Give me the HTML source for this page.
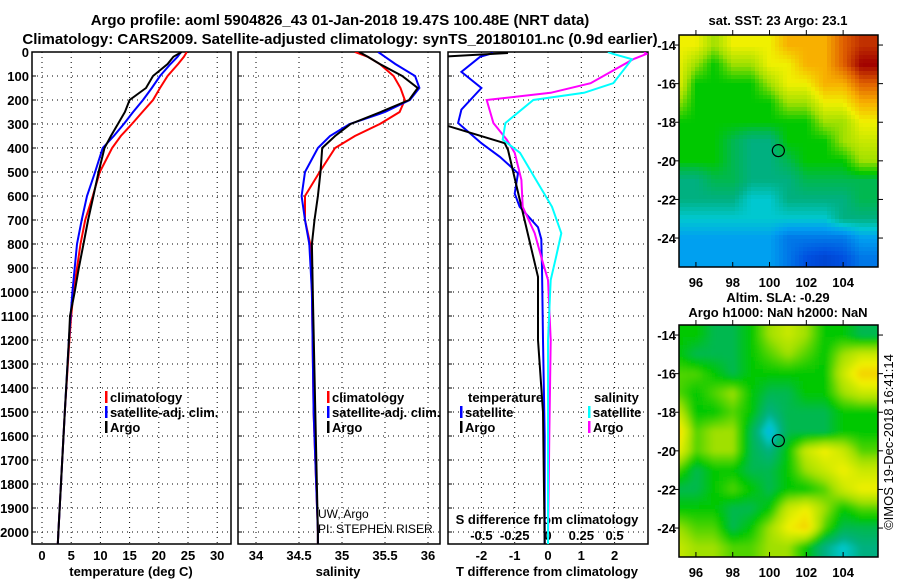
<!DOCTYPE html>
<html><head><meta charset="utf-8">
<style>
html,body{margin:0;padding:0;background:#fff;}
svg text{font-family:"Liberation Sans",Arial,sans-serif;}
.b{font-weight:bold;font-size:13px;}
.t{font-weight:bold;font-size:15px;}
</style></head>
<body>
<svg id="fig" width="900" height="580" viewBox="0 0 900 580" xmlns="http://www.w3.org/2000/svg">
<defs>
<clipPath id="c1"><rect x="32" y="52" width="199" height="492"/></clipPath>
<clipPath id="c2"><rect x="238" y="52" width="202" height="492"/></clipPath>
<clipPath id="c3"><rect x="448" y="52" width="200" height="492"/></clipPath>
<clipPath id="cm2"><rect x="679" y="325" width="199" height="232"/></clipPath>
<filter id="blur" x="-10%" y="-10%" width="120%" height="120%"><feGaussianBlur stdDeviation="2"/></filter>
</defs>
<text class="t" x="340" y="25" text-anchor="middle">Argo profile: aoml 5904826_43 01-Jan-2018 19.47S 100.48E (NRT data)</text>
<text class="t" x="340" y="44" text-anchor="middle">Climatology: CARS2009. Satellite-adjusted climatology: synTS_20180101.nc (0.9d earlier)</text>
<g id="g"></g>
</svg>
<script>
// ---- profile data (pressure in dbar) ----
const tDepth = [0,20,50,100,150,200,250,300,350,400,500,600,700,800,900,1000,1100,1200,1500,2000,2050];
const tClim  = [24.8,24.3,23.3,21.5,20.2,19.0,17.2,15.4,13.5,12.0,9.9,8.7,7.4,6.6,6.0,5.4,5.0,4.7,3.9,2.8,2.7];
const tSat   = [23.8,23.2,22.0,20.2,18.8,17.3,15.6,14.0,12.3,10.4,9.1,7.7,6.8,6.0,5.6,5.2,4.9,4.6,3.9,2.8,2.7];
const tArgo  = [23.9,22.5,21.5,19.0,17.8,15.0,14.2,13.0,11.8,10.7,9.7,8.8,7.9,7.1,6.3,5.6,4.8,4.6,3.9,2.8,2.7];
const sDepth = [0,20,50,100,150,200,250,300,350,400,500,600,700,800,1000,1500,2000,2050];
const sClim  = [35.15,35.3,35.44,35.6,35.68,35.73,35.67,35.44,35.15,34.92,34.74,34.57,34.57,34.63,34.65,34.67,34.72,34.72];
const sSat   = [35.42,35.5,35.62,35.85,35.9,35.79,35.5,35.09,34.86,34.72,34.57,34.53,34.57,34.62,34.65,34.67,34.72,34.72];
const sArgo  = [35.2,35.3,35.44,35.7,35.88,35.78,35.45,35.1,34.92,34.77,34.75,34.72,34.68,34.65,34.66,34.69,34.72,34.72];
const dDepthT = [4,20,83,150,240,296,380,437,505,590,645,730,780,900,1200,1600,2050];
const dTSat   = [-1.65,-2.04,-2.6,-2.0,-2.6,-2.7,-2.0,-1.44,-0.9,-1.0,-0.85,-0.3,-0.2,-0.18,-0.15,-0.1,-0.1];
const dDepthA = [4,20,300,380,408,937,1200,1500,2050];
const dTArgo  = [-1.2,-3.2,-3.2,-1.3,-1.2,-0.3,-0.3,-0.15,-0.1];
const dDepthS = [0,8,30,130,170,200,296,365,420,533,645,755,855,950,1200,1600,2050];
const dSArgo  = [0.72,0.74,0.64,0.32,0.02,-0.46,-0.41,-0.31,-0.25,-0.2,-0.19,-0.1,-0.05,0.0,0.02,0.01,0.0];
const dSSat   = [0.45,0.49,0.63,0.49,0.27,-0.11,-0.32,-0.34,-0.21,-0.09,0.03,0.1,0.06,0.02,0.0,0.0,0.0];
const depthTicks = [0,100,200,300,400,500,600,700,800,900,1000,1100,1200,1300,1400,1500,1600,1700,1800,1900,2000];
const tTicks = [0,5,10,15,20,25,30];
const sTicks = [34,34.5,35,35.5,36];
const sTickLabels = ['34','34.5','35','35.5','36'];
const dTicks = [-2,-1,0,1,2];
const dSTicks = [-0.5,-0.25,0,0.25,0.5];
const dSTickLabels = ['-0.5','-0.25','0','0.25','0.5'];
// ---- map data (colour index 0..9), rows lat -14..-25, cols lon 95..105 ----
const sstGrid = [
[6,6,5,6,6,6,7,7,7,8,8.5],
[6,5,4,5,5,6,6,7,7,8,9],
[6,4,4,4,4,5,6,6,7,7,8],
[5,4,4,4,4,4,5,5,6,6,7],
[4,4,4,4,4,4,4,4,5,5,6],
[4,4,4,3.5,3,3,4,4,4,5,5.5],
[4,4,4,3.5,3,3,3.5,4,4,4,5],
[3,3,3.5,3.5,3,3,3,3.5,3.5,3.5,3.5],
[3,3,3,3,2.5,2.5,3,3,3,3,3.5],
[2.5,2.5,2.5,2.5,2.5,2.5,2.5,2.5,2.5,3,3],
[2,2,2,2,2,2,1.5,1.5,1.5,1.5,2],
[2,2,2,2,2,2,1.5,1,0.8,1,1.5]];
const slaGrid = [
[4,4,3.5,3.5,4,5,5.5,5,4,4,3.5],
[4,3.5,3.5,3.5,4,4.5,5,4.5,4,5,5.5],
[4.5,4.5,4,3.5,4,4,4,4,4,5.5,6.5],
[4.5,4,4.5,5,4,3.5,3.5,4,4,5,5.5],
[5.5,4,4,4.5,4,3,3.5,3.5,3.5,4,4],
[6.5,4.5,5,5,3.5,2.2,3.5,3.5,3.5,4,4],
[6,4.5,5,5,3.5,3,4,5.5,6,5.5,4.5],
[4.5,3.5,4,4,3.5,3.5,4,5,5.5,6,5.5],
[3.5,3.5,4,4.5,4,3.5,4,4,4.5,5.5,6],
[4,4,4,3.5,3.5,4,5.5,6,5,4,4.5],
[5,4.5,4.5,3.5,4,5,6,6.5,4.5,3.5,3.5],
[5.5,5,5,4.5,4.5,5,5,4,3,2.5,3]];
const mapLats = [-14,-15,-16,-17,-18,-19,-20,-21,-22,-23,-24,-25];
const mapLons = [95,96,97,98,99,100,101,102,103,104,105];
const lonTicks = [96,98,100,102,104];
const latTicks = [-14,-16,-18,-20,-22,-24];
const floatLon = 100.48, floatLat = -19.47;

const NS='http://www.w3.org/2000/svg';
const G=document.getElementById('g');
function el(tag,attrs,parent,txt){const e=document.createElementNS(NS,tag);for(const k in attrs)e.setAttribute(k,attrs[k]);if(txt!==undefined)e.textContent=txt;(parent||G).appendChild(e);return e;}
const PB = 544;
const yD = d => 52 + d*0.24;
const xT = t => 42 + t*5.84;
const xS = s => 256 + (s-34)*86;
const xDT = t => 548 + t*33.3;
const xDS = s => 548 + s*133.2;

function panel(x0,x1,xt,xfn,labels,name){
  const g=el('g',{});  
  xt.forEach(v=>{const X=xfn(v);el('line',{x1:X,y1:52,x2:X,y2:PB,stroke:'#000','stroke-width':1,'stroke-dasharray':'1,4'},g);});
  depthTicks.forEach(d=>{const Y=yD(d);el('line',{x1:x0,y1:Y,x2:x1,y2:Y,stroke:'#000','stroke-width':1,'stroke-dasharray':'1,4'},g);
    el('line',{x1:x0,y1:Y,x2:x0+4,y2:Y,stroke:'#000'},g);});
  el('rect',{x:x0,y:52,width:x1-x0,height:PB-52,fill:'none',stroke:'#000','stroke-width':1.5},g);
  if(labels) xt.forEach((v,i)=>{const t=el('text',{class:'b',x:xfn(v),y:560,'text-anchor':'middle'},g,labels[i]);});
  return g;
}
function line(xs,ds,xfn,color,clip,name,w){
  const pts=xs.map((v,i)=>xfn(v).toFixed(1)+','+yD(ds[i]).toFixed(1)).join(' ');
  const p=el('polyline',{points:pts,fill:'none',stroke:color,'stroke-width':w||2,'clip-path':'url(#'+clip+')'});
  
  
}
// Panel 1
const p1=panel(32,231,tTicks,xT,tTicks.map(String),'temperature-panel');
depthTicks.forEach(d=>{const t=el('text',{class:'b',x:29,y:yD(d)+5,'text-anchor':'end'},p1,String(d));});
line(tClim,tDepth,xT,'#f00','c1','temp-climatology-line');
line(tSat,tDepth,xT,'#00f','c1','temp-satellite-line');
line(tArgo,tDepth,xT,'#000','c1','temp-argo-line');
el('text',{class:'b',x:131,y:576,'text-anchor':'middle'},p1,'temperature (deg C)');
// Panel 2
const p2=panel(238,440,sTicks,xS,sTickLabels,'salinity-panel');
line(sClim,sDepth,xS,'#f00','c2','sal-climatology-line');
line(sSat,sDepth,xS,'#00f','c2','sal-satellite-line');
line(sArgo,sDepth,xS,'#000','c2','sal-argo-line');
el('text',{class:'b',x:338,y:576,'text-anchor':'middle'},p2,'salinity');
el('text',{x:318,y:518,'font-size':12},p2,'UW, Argo');
el('text',{x:318,y:533,'font-size':12},p2,'PI: STEPHEN RISER');
// Panel 3
const p3=panel(448,648,dTicks,xDT,dTicks.map(String),'difference-panel');
line(dTSat,dDepthT,xDT,'#00f','c3','tdiff-satellite-line');
line(dTArgo,dDepthA,xDT,'#000','c3','tdiff-argo-line');
line(dSArgo,dDepthS,xDS,'#f0f','c3','sdiff-argo-line');
line(dSSat,dDepthS,xDS,'#0ff','c3','sdiff-satellite-line');
el('text',{class:'b',x:547,y:576,'text-anchor':'middle'},p3,'T difference from climatology');
el('text',{class:'b',x:547,y:524,'text-anchor':'middle'},p3,'S difference from climatology');
dSTicks.forEach((v,i)=>{el('text',{class:'b',x:xDS(v),y:540,'text-anchor':'middle'},p3,dSTickLabels[i]);});
// legends
function leg(x,y,color,txt,name){const g=el('g',{});
  el('rect',{x:x,y:y-11,width:2.5,height:12,fill:color},g);el('text',{class:'b',x:x+5,y:y},g,txt);}
leg(105,402,'#f00','climatology','legend-climatology');
leg(105,417,'#00f','satellite-adj. clim.','legend-satellite');
leg(105,432,'#000','Argo','legend-argo');
leg(327,402,'#f00','climatology','legend-climatology-2');
leg(327,417,'#00f','satellite-adj. clim.','legend-satellite-2');
leg(327,432,'#000','Argo','legend-argo-2');
el('text',{class:'b',x:468,y:402},p3,'temperature');
leg(460,417,'#00f','satellite','legend-t-satellite');
leg(460,432,'#000','Argo','legend-t-argo');
el('text',{class:'b',x:594,y:402},p3,'salinity');
leg(588,417,'#0ff','satellite','legend-s-satellite');
leg(588,432,'#f0f','Argo','legend-s-argo');
// colour map
const cstops=[[0,[0,32,160]],[1,[0,80,224]],[2,[0,160,240]],[2.5,[0,200,208]],[3,[0,176,128]],[3.5,[0,184,80]],[4,[0,200,0]],[5,[160,224,0]],[6,[240,240,0]],[7,[248,176,0]],[8,[224,96,0]],[9,[160,0,0]]];
function cmap(v){for(let i=1;i<cstops.length;i++){if(v<=cstops[i][0]){const a=cstops[i-1],b=cstops[i],f=(v-a[0])/(b[0]-a[0]);return 'rgb('+a[1].map((c,k)=>Math.round(c+(b[1][k]-c)*f)).join(',')+')';}}return 'rgb(160,0,0)';}
function sample(grid,lon,lat){
  let fc=lon-mapLons[0], fr=mapLats[0]-lat;
  fc=Math.max(0,Math.min(grid[0].length-1.0001,fc)); fr=Math.max(0,Math.min(grid.length-1.0001,fr));
  const c=Math.floor(fc), r=Math.floor(fr), u=fc-c, v=fr-r;
  return grid[r][c]*(1-u)*(1-v)+grid[r][c+1]*u*(1-v)+grid[r+1][c]*(1-u)*v+grid[r+1][c+1]*u*v;
}
const mxL = lon => 679 + (lon-95.08)*18.4;
function mapPanel(top,grid,name,clip,blur,cell){
  const myL = lat => top + (-13.48-lat)*19.3;
  const g=el('g',{});  
  const cg=el('g',clip?{'clip-path':'url(#'+clip+')'}:{},g);
  const ig=el('g',blur?{filter:'url(#blur)'}:{},cg);
  const pad=blur?8:0;
  for(let y=top-pad;y<top+232+pad;y+=cell){for(let x=679-pad;x<878+pad;x+=cell){
    const lon=95.08+(x+cell/2-679)/18.4, lat=-13.48-(y+cell/2-top)/19.3;
    const w=Math.min(cell,878+pad-x), h=Math.min(cell,top+232+pad-y);
    el('rect',{x:x,y:y,width:w+0.3,height:h+0.3,fill:cmap(sample(grid,lon,lat))},ig);
  }}
  el('rect',{x:679,y:top,width:199,height:232,fill:'none',stroke:'#000','stroke-width':1.5},g);
  lonTicks.forEach(l=>{const X=mxL(l);el('line',{x1:X,y1:top+232,x2:X,y2:top+227,stroke:'#000'},g);el('line',{x1:X,y1:top,x2:X,y2:top-5,stroke:'#000'},g);
    el('text',{class:'b',x:X,y:top+252,'text-anchor':'middle'},g,String(l));});
  latTicks.forEach(l=>{const Y=myL(l);el('line',{x1:679,y1:Y,x2:675,y2:Y,stroke:'#000'},g);el('line',{x1:878,y1:Y,x2:883,y2:Y,stroke:'#000'},g);
    el('text',{class:'b',x:676,y:Y+5,'text-anchor':'end'},g,String(l));});
  el('circle',{cx:mxL(floatLon),cy:myL(floatLat),r:6,fill:'none',stroke:'#000','stroke-width':1.2},g);
}
mapPanel(35,sstGrid,'sst-map',null,false,4);
mapPanel(325,slaGrid,'sla-map','cm2',true,4);
el('text',{class:'b',x:778,y:25,'text-anchor':'middle'},G,'sat. SST: 23 Argo: 23.1');
el('text',{class:'b',x:778,y:302,'text-anchor':'middle'},G,'Altim. SLA: -0.29');
el('text',{class:'b',x:778,y:317,'text-anchor':'middle'},G,'Argo h1000: NaN h2000: NaN');
el('text',{x:893,y:442,'font-size':13,'text-anchor':'middle',transform:'rotate(-90 893 442)'},G,'\u00a9IMOS 19-Dec-2018 16:41:14');
</script>
</body></html>
